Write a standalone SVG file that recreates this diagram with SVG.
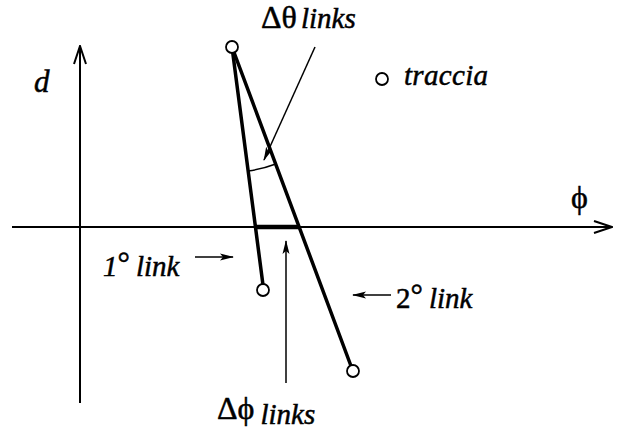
<svg xmlns="http://www.w3.org/2000/svg" width="617" height="431" viewBox="0 0 617 431">
<style>
text{font-family:'Liberation Serif','Times New Roman','DejaVu Serif',serif;fill:#000;stroke:#000;stroke-width:0.5}
.i{font-style:italic}
.ax{stroke:#000;stroke-width:2;fill:none}
.thin{stroke:#000;stroke-width:1.5;fill:none}
.link{stroke:#000;stroke-width:3.5;fill:none;stroke-linecap:round}
.pt{stroke:#000;stroke-width:1.8;fill:#fff}
</style>
<defs>
<marker id="open" viewBox="0 0 20 14" refX="19" refY="7" markerWidth="20" markerHeight="14" markerUnits="userSpaceOnUse" orient="auto">
<path d="M1,1 L19,7 L1,13" fill="none" stroke="#000" stroke-width="2"/>
</marker>
<marker id="solid" viewBox="0 0 14 8" refX="13" refY="4" markerWidth="14" markerHeight="8" markerUnits="userSpaceOnUse" orient="auto">
<path d="M0,0.5 L14,4 L0,7.5 L3,4 Z" fill="#000"/>
</marker>
</defs>
<g id="axes">
<line class="ax" x1="12" y1="227" x2="612" y2="227" marker-end="url(#open)"/>
<line class="ax" x1="80" y1="403" x2="80" y2="46" marker-end="url(#open)"/>
<text class="i" x="34" y="92" font-size="31">d</text>
<text x="571" y="208" font-size="32">ϕ</text>
</g>
<g id="connectors">
<line class="link" x1="232" y1="47" x2="263" y2="285"/>
<line class="link" x1="232" y1="47" x2="351" y2="366"/>
<line x1="255" y1="227" x2="300" y2="227" stroke="#000" stroke-width="4.5"/>
<path class="thin" d="M248.1,171 A125,125 0 0 0 275.7,164"/>
<line class="thin" x1="315" y1="47" x2="264" y2="160" marker-end="url(#solid)"/>
<line class="thin" x1="286" y1="383" x2="286" y2="241" marker-end="url(#solid)"/>
<line class="thin" x1="195" y1="257" x2="233" y2="257" marker-end="url(#solid)"/>
<line class="thin" x1="391" y1="295" x2="353" y2="295" marker-end="url(#solid)"/>
</g>
<g id="points">
<circle class="pt" cx="232" cy="47" r="6"/>
<circle class="pt" cx="263" cy="290" r="6"/>
<circle class="pt" cx="353" cy="371" r="6"/>
</g>
<g id="traccia">
<circle class="pt" cx="382" cy="79" r="6"/>
<text class="i" x="404" y="85" font-size="29" textLength="84">traccia</text>
</g>
<g id="dtheta">
<text x="261" y="28" font-size="32">Δθ<tspan class="i" dx="4" font-size="29">links</tspan></text>
</g>
<g id="dphi">
<text x="217" y="419" font-size="32">Δϕ<tspan class="i" dx="6" dy="5" font-size="29">links</tspan></text>
</g>
<g id="link1">
<text class="i" x="103" y="276" font-size="29">1<tspan font-style="normal" dy="-2" font-size="31">°</tspan><tspan dx="6" dy="2">link</tspan></text>
</g>
<g id="link2">
<text x="396" y="308" font-size="29">2<tspan dy="-2" font-size="31">°</tspan><tspan class="i" dx="6" dy="2">link</tspan></text>
</g>
</svg>
